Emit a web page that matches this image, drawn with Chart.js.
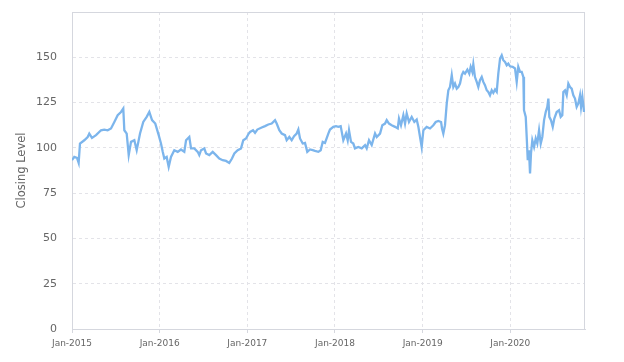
<!DOCTYPE html>
<html>
<head>
<meta charset="utf-8">
<script src="https://cdn.jsdelivr.net/npm/chart.js@4.4.1/dist/chart.umd.min.js"></script>
<style>
  html, body { margin: 0; padding: 0; background: #fff; }
  #wrap { width: 624px; height: 362px; }
</style>
</head>
<body>
<div id="wrap"><canvas id="closingChart" width="624" height="362"></canvas></div>
<script>
// dates as decimal years
const dates = [
    2015.000, 2015.026, 2015.057, 2015.076, 2015.091, 2015.140, 2015.179, 2015.197, 2015.228, 2015.274,
    2015.331, 2015.368, 2015.407, 2015.445, 2015.483, 2015.521, 2015.559, 2015.585, 2015.597, 2015.624,
    2015.647, 2015.673, 2015.711, 2015.738, 2015.776, 2015.813, 2015.852, 2015.882, 2015.913, 2015.950,
    2015.989, 2016.015, 2016.035, 2016.053, 2016.080, 2016.103, 2016.129, 2016.167, 2016.206, 2016.243,
    2016.281, 2016.301, 2016.338, 2016.358, 2016.395, 2016.434, 2016.452, 2016.472, 2016.509, 2016.529,
    2016.566, 2016.605, 2016.643, 2016.680, 2016.719, 2016.757, 2016.794, 2016.825, 2016.852, 2016.890,
    2016.928, 2016.954, 2016.985, 2017.016, 2017.031, 2017.065, 2017.088, 2017.114, 2017.164, 2017.202,
    2017.239, 2017.278, 2017.316, 2017.335, 2017.365, 2017.392, 2017.430, 2017.449, 2017.479, 2017.506,
    2017.533, 2017.563, 2017.582, 2017.601, 2017.632, 2017.658, 2017.684, 2017.715, 2017.746, 2017.772,
    2017.810, 2017.837, 2017.860, 2017.886, 2017.924, 2017.943, 2017.981, 2018.012, 2018.038, 2018.065,
    2018.095, 2018.126, 2018.145, 2018.160, 2018.183, 2018.209, 2018.228, 2018.266, 2018.305, 2018.343,
    2018.362, 2018.388, 2018.419, 2018.457, 2018.476, 2018.514, 2018.540, 2018.571, 2018.590, 2018.616,
    2018.647, 2018.685, 2018.716, 2018.730, 2018.753, 2018.780, 2018.799, 2018.818, 2018.844, 2018.875,
    2018.905, 2018.932, 2018.951, 2018.973, 2018.989, 2019.008, 2019.046, 2019.084, 2019.122, 2019.149,
    2019.179, 2019.210, 2019.221, 2019.236, 2019.255, 2019.275, 2019.293, 2019.312, 2019.332, 2019.350,
    2019.369, 2019.389, 2019.407, 2019.426, 2019.446, 2019.464, 2019.483, 2019.510, 2019.532, 2019.548,
    2019.567, 2019.578, 2019.597, 2019.617, 2019.635, 2019.654, 2019.674, 2019.692, 2019.711, 2019.731,
    2019.749, 2019.768, 2019.788, 2019.806, 2019.826, 2019.845, 2019.863, 2019.883, 2019.902, 2019.920,
    2019.940, 2019.959, 2019.977, 2019.997, 2020.027, 2020.054, 2020.073, 2020.091, 2020.111, 2020.130,
    2020.149, 2020.156, 2020.176, 2020.187, 2020.199, 2020.213, 2020.225, 2020.236, 2020.251, 2020.271,
    2020.290, 2020.308, 2020.328, 2020.347, 2020.365, 2020.385, 2020.404, 2020.422, 2020.434, 2020.445,
    2020.464, 2020.484, 2020.502, 2020.529, 2020.556, 2020.575, 2020.593, 2020.605, 2020.624, 2020.643,
    2020.662, 2020.681, 2020.700, 2020.719, 2020.738, 2020.757, 2020.776, 2020.795, 2020.807, 2020.822,
    2020.841
];

const closing = [
    93.2, 95.0, 94.5, 91.7, 102.4, 104.2, 106.0, 107.9, 105.5, 107.0,
    109.7, 110.1, 109.7, 110.7, 114.3, 118.0, 119.8, 121.7, 109.7, 107.9,
    96.0, 103.3, 104.2, 98.7, 107.9, 114.3, 117.1, 119.8, 115.3, 113.4,
    107.0, 102.4, 97.8, 94.1, 95.0, 89.5, 95.0, 98.7, 97.8, 99.1,
    97.8, 104.2, 106.0, 99.7, 99.7, 97.8, 96.0, 98.7, 99.7, 96.9,
    96.0, 97.8, 96.0, 94.1, 93.2, 92.8, 91.7, 94.1, 96.9, 98.7,
    99.7, 104.2, 105.2, 107.9, 108.8, 109.7, 108.3, 110.1, 111.2, 112.0,
    112.9, 113.4, 115.3, 113.4, 109.7, 107.9, 107.0, 104.2, 106.0, 104.2,
    106.4, 107.9, 110.1, 105.2, 102.4, 102.7, 97.8, 99.1, 98.7, 98.3,
    97.8, 98.7, 103.3, 102.7, 107.9, 110.1, 111.6, 112.0, 111.6, 112.0,
    104.2, 107.9, 104.2, 109.7, 103.3, 102.4, 99.7, 100.5, 99.7, 101.5,
    99.7, 104.2, 101.5, 107.9, 106.0, 107.9, 112.5, 113.4, 115.3, 113.4,
    112.5, 111.6, 110.7, 116.2, 112.5, 118.0, 113.4, 119.0, 114.3, 117.1,
    114.3, 115.6, 111.6, 105.2, 100.5, 109.7, 111.6, 110.7, 112.5, 114.3,
    114.9, 114.3, 110.7, 107.9, 112.5, 124.5, 131.8, 133.6, 140.1, 133.6,
    135.5, 132.7, 133.6, 135.5, 140.1, 141.9, 141.0, 143.2, 141.0, 144.7,
    141.9, 146.1, 139.1, 136.4, 133.6, 137.3, 139.1, 136.4, 134.6, 131.8,
    130.9, 129.0, 131.8, 130.3, 132.2, 130.9, 141.0, 149.3, 151.1, 148.4,
    147.4, 145.6, 146.5, 145.0, 144.7, 143.8, 136.4, 144.7, 141.9, 141.9,
    139.1, 120.8, 117.1, 106.0, 93.2, 98.7, 85.9, 96.9, 104.2, 100.5,
    105.2, 102.4, 109.7, 102.4, 106.0, 115.3, 119.8, 122.6, 127.2, 117.1,
    115.3, 111.6, 116.2, 119.8, 120.8, 117.1, 118.0, 130.9, 131.8, 129.0,
    135.5, 133.6, 132.7, 129.0, 127.2, 122.6, 124.5, 129.0, 122.6, 128.1,
    119.8
];

const yearTicks = [2015, 2016, 2017, 2018, 2019, 2020];
const levelTicks = [0, 25, 50, 75, 100, 125, 150];
const xStart = 2015;
const xEnd = 2020.852;
const yMax = 175;

// light frame around the plot area (top and right included)
const plotFrame = {
    id: 'plotFrame',
    beforeDatasetsDraw(chart) {
        const a = chart.chartArea;
        const ctx = chart.ctx;
        ctx.save();
        ctx.strokeStyle = '#d5d7de';
        ctx.lineWidth = 1;
        ctx.strokeRect(a.left + 0.5, a.top + 0.5, a.right - a.left - 1, a.bottom - a.top);
        ctx.restore();
    }
};

const points = dates.map((d, i) => ({ x: d, y: closing[i] }));

const config = {
    type: 'line',
    data: {
        datasets: [{
            label: 'Closing Level',
            data: points,
            borderColor: '#7cb5ec',
            borderWidth: 2.3,
            pointRadius: 0,
            tension: 0,
            fill: false
        }]
    },
    options: {
        responsive: false,
        animation: false,
        layout: {
            padding: { left: 11, right: 39, top: 12, bottom: 0 }
        },
        plugins: {
            legend: { display: false },
            tooltip: { enabled: false }
        },
        scales: {
            x: {
                type: 'linear',
                min: xStart,
                max: xEnd,
                afterBuildTicks: function (scale) {
                    scale.ticks = yearTicks.map(v => ({ value: v }));
                },
                afterFit: function (scale) {
                    scale.height = 33;
                },
                ticks: {
                    autoSkip: false,
                    maxRotation: 0,
                    padding: 5,
                    color: '#666',
                    font: { family: 'DejaVu Sans', size: 9 },
                    callback: v => 'Jan-' + v
                },
                grid: {
                    color: '#e3e3e8',
                    tickLength: 4,
                    tickColor: '#d5d7de'
                },
                border: {
                    display: true,
                    color: '#d5d7de',
                    dash: [3, 3]
                }
            },
            y: {
                min: 0,
                max: yMax,
                afterBuildTicks: function (scale) {
                    scale.ticks = levelTicks.map(v => ({ value: v }));
                },
                afterFit: function (scale) {
                    scale.width = 61;
                    scale.paddingTop = 0;
                    scale.paddingBottom = 0;
                },
                title: {
                    display: true,
                    text: 'Closing Level',
                    color: '#666',
                    font: { family: 'DejaVu Sans', size: 11.5 },
                    padding: { top: 4, bottom: 4 }
                },
                ticks: {
                    padding: 15,
                    color: '#666',
                    font: { family: 'DejaVu Sans', size: 11 }
                },
                grid: {
                    color: '#e3e3e8',
                    drawTicks: false
                },
                border: {
                    display: true,
                    color: '#d5d7de',
                    dash: [3, 3]
                }
            }
        }
    },
    plugins: [plotFrame]
};

window.closingChart = new Chart(document.getElementById('closingChart'), config);
</script>
</body>
</html>
